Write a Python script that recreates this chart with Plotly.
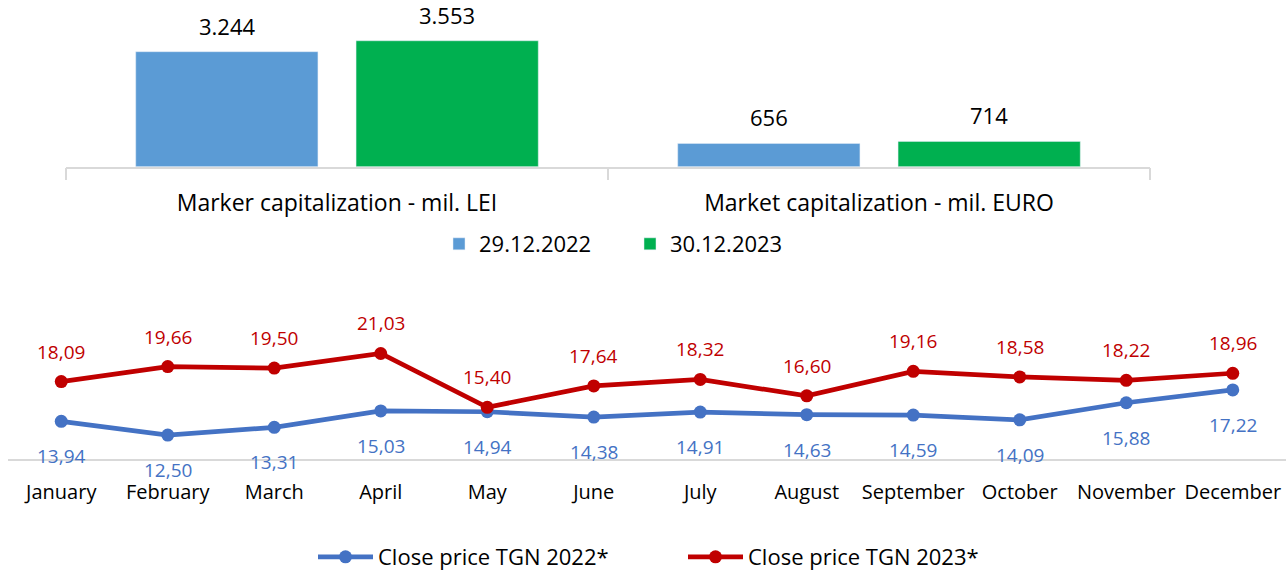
import plotly.graph_objects as go

# ---- Data ----
bar_categories = ["Marker capitalization - mil. LEI", "Market capitalization - mil. EURO"]
cap_2022 = [3244, 656]
cap_2023 = [3553, 714]
bar_series_names = ["29.12.2022", "30.12.2023"]

months = ["January", "February", "March", "April", "May", "June", "July",
          "August", "September", "October", "November", "December"]
close_2022 = [13.94, 12.50, 13.31, 15.03, 14.94, 14.38, 14.91, 14.63, 14.59, 14.09, 15.88, 17.22]
close_2023 = [18.09, 19.66, 19.50, 21.03, 15.40, 17.64, 18.32, 16.60, 19.16, 18.58, 18.22, 18.96]
line_series_names = ["Close price TGN 2022*", "Close price TGN 2023*"]

# ---- Styles ----
FONT = "Open Sans"
BLUE_BAR = "#5B9BD5"
GREEN_BAR = "#00B050"
BLUE_LINE = "#4472C4"
RED_LINE = "#C00000"
AXIS_GREY = "#D9D9D9"
W, H = 1286, 571


def fmt_thousands(v):
    return f"{v:,}".replace(",", ".")


def fmt_dec(v):
    return f"{v:.2f}".replace(".", ",")


fig = go.Figure()

fig.add_trace(go.Bar(x=bar_categories, y=cap_2022, name=bar_series_names[0],
                     marker=dict(color=BLUE_BAR), xaxis="x", yaxis="y", legend="legend"))
fig.add_trace(go.Bar(x=bar_categories, y=cap_2023, name=bar_series_names[1],
                     marker=dict(color=GREEN_BAR), xaxis="x", yaxis="y", legend="legend"))

fig.add_trace(go.Scatter(x=months, y=close_2022, name=line_series_names[0], mode="lines+markers",
                         line=dict(color=BLUE_LINE, width=4.7), marker=dict(size=13, color=BLUE_LINE),
                         xaxis="x2", yaxis="y2", legend="legend2"))
fig.add_trace(go.Scatter(x=months, y=close_2023, name=line_series_names[1], mode="lines+markers",
                         line=dict(color=RED_LINE, width=4.7), marker=dict(size=13, color=RED_LINE),
                         xaxis="x2", yaxis="y2", legend="legend2"))

annotations = []
for cat, v in zip(bar_categories, cap_2022):
    annotations.append(dict(x=cat, y=v, xref="x", yref="y", text=fmt_thousands(v), showarrow=False,
                            xshift=-110, yshift=26, font=dict(family=FONT, size=22, color="#000000")))
for cat, v in zip(bar_categories, cap_2023):
    annotations.append(dict(x=cat, y=v, xref="x", yref="y", text=fmt_thousands(v), showarrow=False,
                            xshift=110, yshift=26, font=dict(family=FONT, size=22, color="#000000")))
for m, v in zip(months, close_2023):
    annotations.append(dict(x=m, y=v, xref="x2", yref="y2", text=fmt_dec(v), showarrow=False,
                            yshift=30, font=dict(family=FONT, size=19, color=RED_LINE)))
for m, v in zip(months, close_2022):
    annotations.append(dict(x=m, y=v, xref="x2", yref="y2", text=fmt_dec(v), showarrow=False,
                            yshift=-35, font=dict(family=FONT, size=19, color=BLUE_LINE)))

fig.update_layout(
    width=W, height=H,
    margin=dict(l=0, r=0, t=0, b=0, autoexpand=False),
    paper_bgcolor="white", plot_bgcolor="white",
    font=dict(family=FONT, color="#000000"),
    barmode="group", bargap=0.187, bargroupgap=0.173,
    showlegend=True,
    annotations=annotations,
    xaxis=dict(domain=[66 / W, 1150 / W], type="category", range=[-0.5, 1.5],
               showline=True, linecolor=AXIS_GREY, linewidth=1.5,
               ticks="outside", tickson="boundaries", ticklen=12, tickcolor=AXIS_GREY, tickwidth=1.5,
               tickfont=dict(family=FONT, size=23, color="#000000"), ticklabelstandoff=15,
               showgrid=False, zeroline=False, anchor="y", fixedrange=True),
    yaxis=dict(domain=[1 - 166.7 / H, 1 - 24.9 / H], range=[0, 4000], visible=False,
               showgrid=False, zeroline=False, anchor="x"),
    xaxis2=dict(domain=[8 / W, 1.0], type="category", range=[-0.5, 11.5],
                showline=True, linecolor=AXIS_GREY, linewidth=2, ticks="",
                tickfont=dict(family=FONT, size=20, color="#000000"), ticklabelstandoff=14,
                showgrid=False, zeroline=False, anchor="y2"),
    yaxis2=dict(domain=[1 - 459 / H, 1 - 315.5 / H], range=[10, 25], visible=False,
                showgrid=False, zeroline=False, anchor="x2"),
    legend=dict(orientation="h", x=630 / W, xanchor="center", y=1 - 244 / H, yanchor="middle",
                font=dict(family=FONT, size=22, color="#000000"), bgcolor="rgba(0,0,0,0)",
                entrywidth=146, traceorder="normal"),
    legend2=dict(orientation="h", x=683 / W, xanchor="center", y=1 - 557 / H, yanchor="middle",
                 font=dict(family=FONT, size=22, color="#000000"), bgcolor="rgba(0,0,0,0)",
                 itemwidth=55, entrywidth=300, traceorder="normal"),
)

fig.write_html("out.html", config={"displayModeBar": False},
               post_script="document.body.style.margin='0';")
